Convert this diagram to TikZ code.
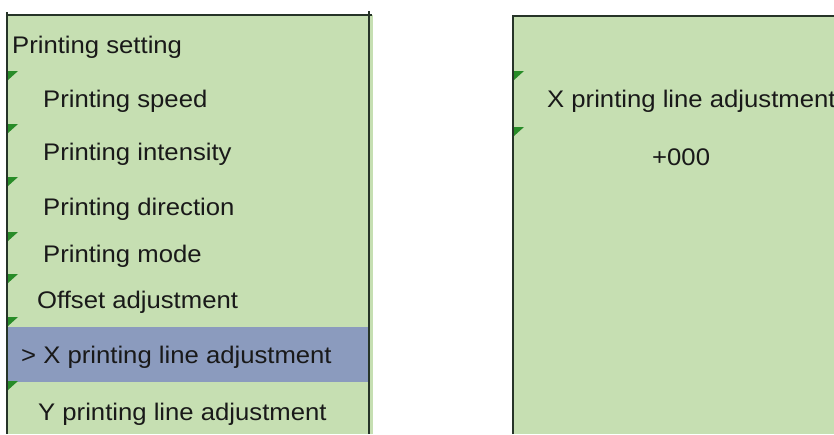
\documentclass[tikz,border=0pt]{standalone}
\usepackage{fontspec}
\setmainfont[FakeStretch=1.07]{Liberation Sans}
\usepackage{tikz}
\definecolor{lcdgreen}{RGB}{198,223,178}
\definecolor{selblue}{RGB}{139,155,190}
\definecolor{cadre}{RGB}{38,52,40}
\definecolor{marque}{RGB}{40,140,40}
\tikzstyle{item}=[
        anchor=base west,
        inner sep=0pt,
        text=black!90,
        font=\fontsize{24}{28}\selectfont
]
\tikzstyle{bord}=[draw=cadre,line width=2.6pt]
\tikzstyle{flag}=[fill=marque]

\begin{document}
\begin{tikzpicture}[x=1pt,y=-1pt]
\useasboundingbox (0,0) rectangle (834,434);
%fonds
\fill[lcdgreen] (7,15) rectangle (373,434);
\fill[selblue] (8,327) rectangle (368,382);
\fill[lcdgreen] (513,16) rectangle (834,434);
%bords
\draw[bord] (7,12) -- (7,434);
\draw[bord] (7,15) -- (372,15);
\draw[bord] (369,11) -- (369,434);
\draw[bord] (513,434) -- (513,16) -- (834,16);
%marques
\foreach \y in {71,124,177,232,274,317,381}
  \fill[flag] (8,\y) -- ++(10,0) -- ++(-10,9) -- cycle;
\foreach \y in {71,127}
  \fill[flag] (514,\y) -- ++(10,0) -- ++(-10,9) -- cycle;
%menu
\node[item] (titre) at (12,53) {Printing setting};
\node[item] (speed) at (43,107) {Printing speed};
\node[item] (intensity) at (43,160) {Printing intensity};
\node[item] (direction) at (43,215) {Printing direction};
\node[item] (mode) at (43,262) {Printing mode};
\node[item] (offset) at (37,308) {Offset adjustment};
\node[item] (xline) at (21,363) {> X printing line adjustment};
\node[item] (yline) at (38,420) {Y printing line adjustment};
%reglage
\node[item] (xtitre) at (547,107) {X printing line adjustment};
\node[item] (xvaleur) at (652,165) {+000};
\end{tikzpicture}
\end{document}
